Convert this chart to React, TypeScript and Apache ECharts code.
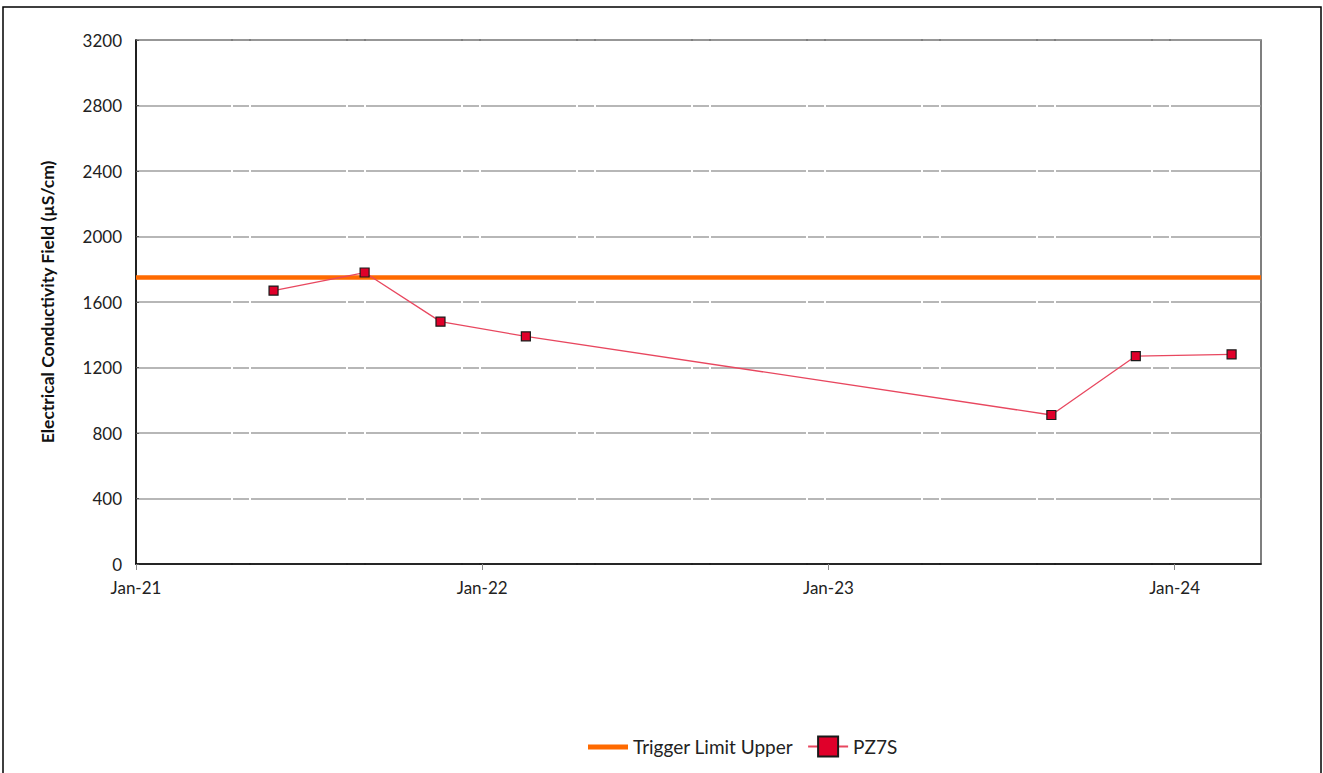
import React, { useEffect, useRef } from "react";
import * as echarts from "echarts";

const startDate = "2021-01-01";
const endDate = "2024-04-01";
const sampleDates = [
  "2021-05-26",
  "2021-08-30",
  "2021-11-18",
  "2022-02-16",
  "2023-08-24",
  "2023-11-21",
  "2024-03-01",
];
const pz7sValues = [1670, 1780, 1480, 1390, 910, 1270, 1280];
const triggerLimitUpper = 1750;
const xTickLabels = ["Jan-21", "Jan-22", "Jan-23", "Jan-24"];
const yTicks = [0, 400, 800, 1200, 1600, 2000, 2400, 2800, 3200];

const DAY = 86400000;
const toDay = (d: string) => Math.round((Date.parse(d) - Date.parse(startDate)) / DAY);

const FONT = "Lato, 'Open Sans', sans-serif";

export default function App() {
  const ref = useRef<HTMLDivElement>(null);
  useEffect(() => {
    if (!ref.current) return;
    const chart = echarts.init(ref.current, undefined, { renderer: "svg" });
    const xMax = toDay(endDate);
    const option: any = {
      animation: false,
      backgroundColor: "#ffffff",
      textStyle: { fontFamily: FONT },
      graphic: [
        {
          type: "rect",
          shape: { x: 3, y: 7, width: 1318, height: 800 },
          style: { fill: "none", stroke: "#000", lineWidth: 1.5 },
          silent: true,
        },
      ],
      grid: {
        left: 136,
        right: 62,
        top: 40,
        bottom: 209,
        show: true,
        borderColor: "#555",
        borderWidth: 1.5,
        backgroundColor: "transparent",
      },
      legend: {
        top: 729,
        left: 583,
        itemWidth: 40,
        itemHeight: 25,
        itemGap: 14,
        textStyle: { fontFamily: FONT, fontSize: 19, color: "#222" },
        data: [
          {
            name: "Trigger Limit Upper",
            icon: "path://M0,0M40,25M0,10.5L40,10.5L40,15.5L0,15.5Z",
            itemStyle: { color: "#ff6a00" },
          },
          { name: "PZ7S" },
        ],
      },
      xAxis: {
        type: "value",
        min: 0,
        max: xMax,
        interval: 365,
        axisLine: { show: true, lineStyle: { color: "#000", width: 1.5 } },
        axisTick: { show: true, length: 6, lineStyle: { color: "#888" } },
        splitLine: { show: false },
        axisLabel: {
          margin: 15,
          showMaxLabel: false,
          fontFamily: FONT,
          fontSize: 17,
          color: "#222",
          formatter: (v: number) => (v % 365 === 0 ? xTickLabels[v / 365] ?? "" : ""),
        },
      },
      yAxis: {
        type: "value",
        min: yTicks[0],
        max: yTicks[yTicks.length - 1],
        interval: 400,
        name: "Electrical Conductivity Field (µS/cm)",
        nameLocation: "middle",
        nameRotate: 90,
        nameGap: 80,
        nameTextStyle: { fontFamily: FONT, fontSize: 17.5, fontWeight: "bold", color: "#111" },
        axisLine: { show: true, lineStyle: { color: "#000", width: 1.5 } },
        axisTick: { show: true, inside: true, length: 3, lineStyle: { color: "#555" } },
        axisLabel: {
          margin: 14,
          fontFamily: FONT,
          fontSize: 17,
          color: "#222",
          formatter: (v: number) => String(v),
        },
        splitLine: {
          show: true,
          lineStyle: { color: "#a0a0a0", width: 1.5, type: [95, 2, 16, 2] },
        },
      },
      series: [
        {
          name: "Trigger Limit Upper",
          type: "line",
          data: [
            [0, triggerLimitUpper],
            [xMax, triggerLimitUpper],
          ],
          symbol: "none",
          lineStyle: { color: "#ff6a00", width: 4.5 },
          itemStyle: { color: "#ff6a00" },
          z: 3,
        },
        {
          name: "PZ7S",
          type: "line",
          data: sampleDates.map((d, i) => [toDay(d), pz7sValues[i]]),
          symbol: "rect",
          symbolSize: 9,
          itemStyle: { color: "#e0002a", borderColor: "#1a1a1a", borderWidth: 1.2 },
          lineStyle: { color: "#e8475f", width: 1.3 },
          z: 4,
        },
      ],
    };
    chart.setOption(option);
    return () => chart.dispose();
  }, []);
  return (
    <div
      ref={ref}
      style={{ position: "fixed", left: 0, top: 0, width: 1323, height: 773 }}
    />
  );
}
